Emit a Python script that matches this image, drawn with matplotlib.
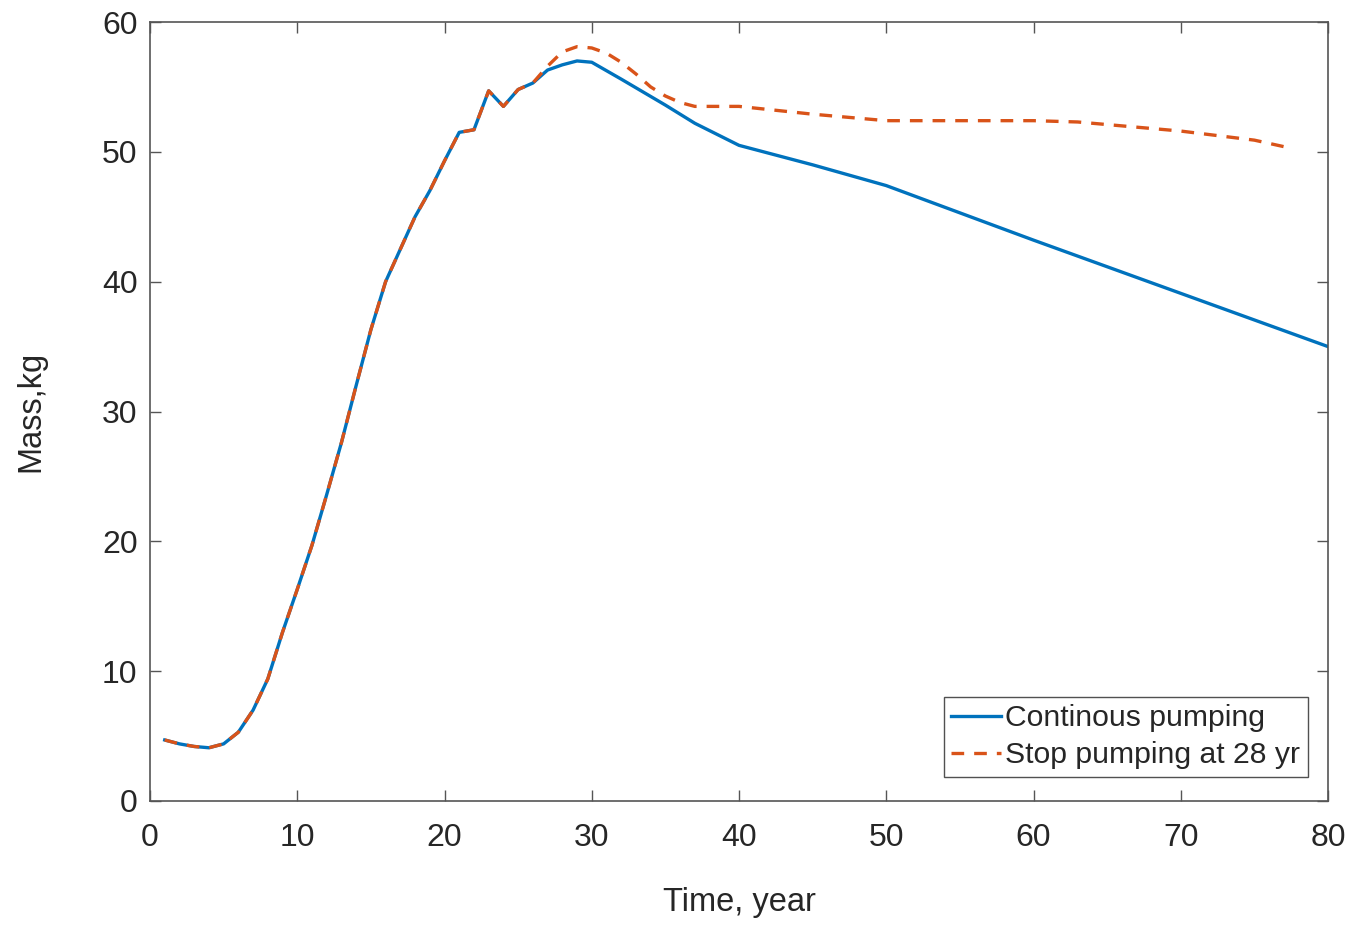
import matplotlib
matplotlib.use("Agg")
import matplotlib.pyplot as plt

# Continuous pumping
t_cont = [1, 2, 3, 4, 5, 6, 7, 8, 9, 10, 11, 12, 13, 14, 15, 16, 17, 18, 19, 20,
          21, 22, 23, 24, 25, 26, 27, 28, 29, 30, 32, 35, 37, 40, 45, 50, 60, 70, 80]
m_cont = [4.7, 4.4, 4.2, 4.1, 4.4, 5.3, 7.0, 9.4, 13.0, 16.3, 19.7, 23.6, 27.6, 32.0, 36.3,
          40.0, 42.5, 45.0, 47.0, 49.3, 51.5, 51.7, 54.7, 53.5, 54.8, 55.3, 56.3, 56.7,
          57.0, 56.9, 55.6, 53.6, 52.2, 50.5, 49.0, 47.4, 43.2, 39.1, 35.0]

# Stop pumping at 28 yr
t_stop = [1, 2, 3, 4, 5, 6, 7, 8, 9, 10, 11, 12, 13, 14, 15, 16, 17, 18, 19, 20,
          21, 22, 23, 24, 25, 26, 27, 28, 29, 30, 31, 32, 33, 34, 35, 36, 37, 40, 45,
          50, 55, 60, 63, 65, 70, 75, 77]
m_stop = [4.7, 4.4, 4.2, 4.1, 4.4, 5.3, 7.0, 9.4, 13.0, 16.3, 19.7, 23.6, 27.6, 32.0, 36.3,
          40.0, 42.5, 45.0, 47.0, 49.3, 51.5, 51.7, 54.7, 53.5, 54.8, 55.3, 56.6, 57.7,
          58.1, 58.0, 57.6, 56.9, 56.0, 55.0, 54.3, 53.8, 53.5, 53.5, 52.9, 52.4, 52.4,
          52.4, 52.3, 52.1, 51.6, 50.9, 50.4]

labels = ["Continous pumping", "Stop pumping at 28 yr"]
xticks = [0, 10, 20, 30, 40, 50, 60, 70, 80]
yticks = [0, 10, 20, 30, 40, 50, 60]

plt.rcParams['font.family'] = ['Liberation Sans', 'DejaVu Sans']
txt = '#262626'

fig = plt.figure(figsize=(13.66, 9.25), dpi=100)
ax = fig.add_axes([150/1366, 1-801/925, (1328-150)/1366, (801-22)/925])

ax.plot(t_cont, m_cont, color='#0072BD', lw=2.4, label=labels[0])
ax.plot(t_stop, m_stop, color='#D95319', lw=2.4, dashes=(3.8, 3.0), label=labels[1])

ax.set_xlim(0, 80)
ax.set_ylim(0, 60)
ax.set_xticks(xticks)
ax.set_yticks(yticks)
ax.tick_params(direction='in', top=True, right=True, labelsize=23, colors=txt,
               length=8, width=1)
ax.tick_params(axis='x', pad=16)
ax.tick_params(axis='y', pad=9)
ax.tick_params(colors='#555555', labelcolor=txt)
for s in ax.spines.values():
    s.set_color('#555555')
    s.set_linewidth(1.2)

ax.set_xlabel('Time, year', fontsize=23.5, color=txt, labelpad=24)
ax.set_ylabel('Mass,kg', fontsize=23.5, color=txt, labelpad=40)

leg = ax.legend(loc='lower right', bbox_to_anchor=(0.983, 0.031), fontsize=21.7,
                frameon=True, fancybox=False, handlelength=1.65, handletextpad=0.15,
                borderpad=0.25, labelspacing=0.3, borderaxespad=0)
leg.get_frame().set_edgecolor('#262626')
leg.get_frame().set_linewidth(1)
for t in leg.get_texts():
    t.set_color(txt)

fig.savefig('out.png', dpi=100)
